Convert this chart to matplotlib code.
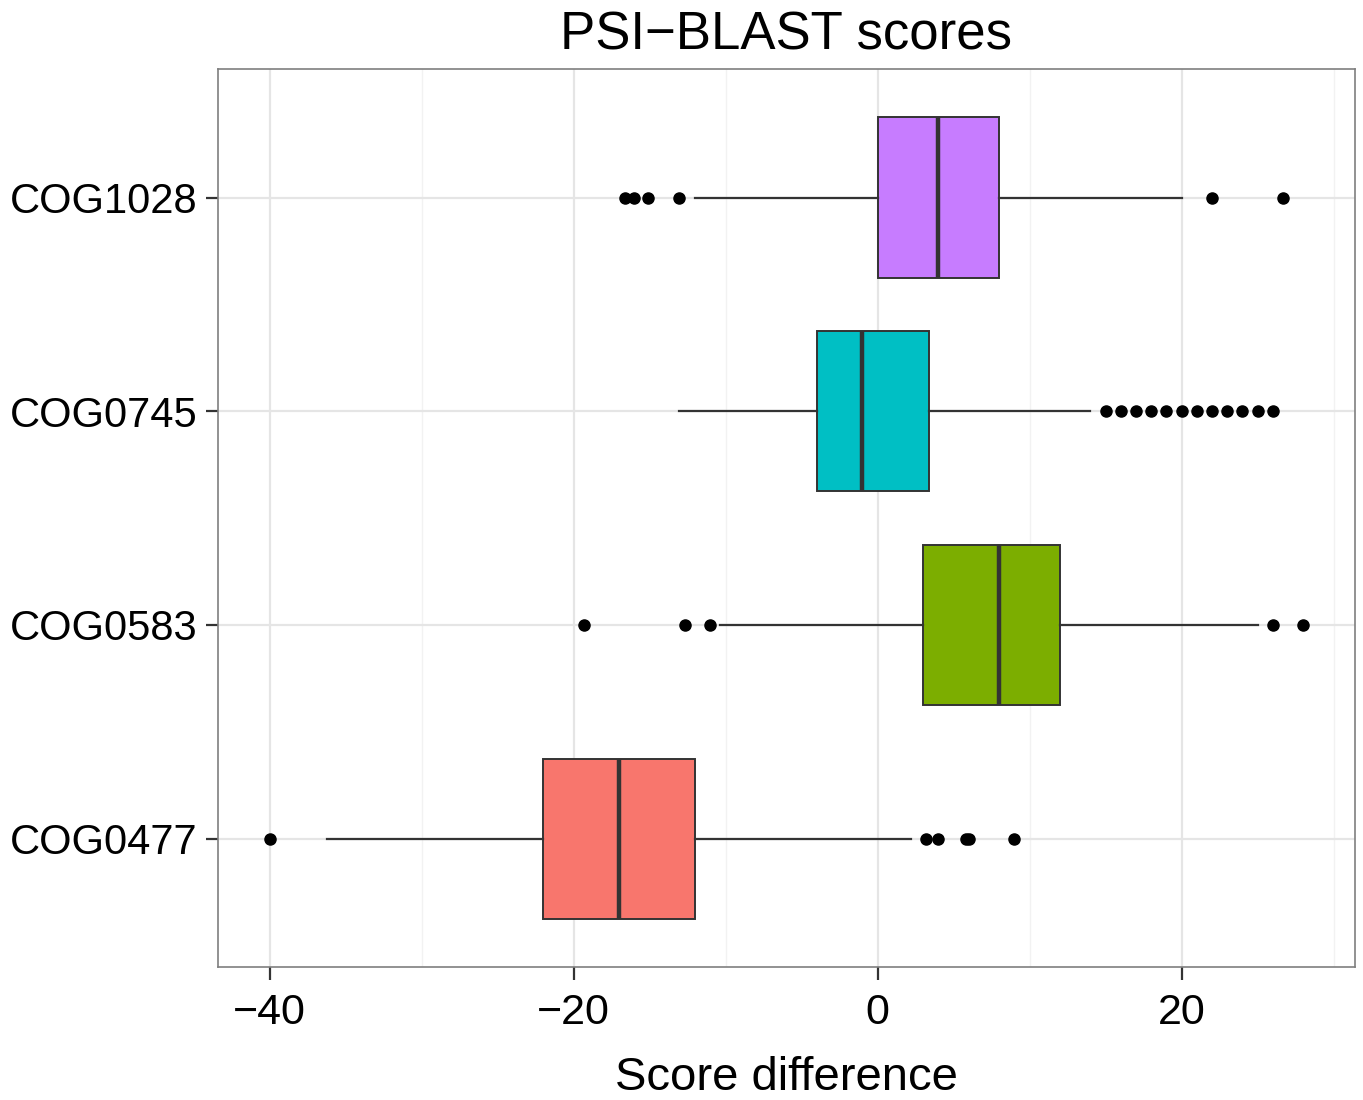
import matplotlib.pyplot as plt
import numpy as np

plt.rcParams["font.family"] = ["Liberation Sans", "DejaVu Sans"]

# Box statistics (bottom to top)
cogs = ["COG0477", "COG0583", "COG0745", "COG1028"]
colors = ["#F8766D", "#7CAE00", "#00BFC4", "#C77CFF"]
q1 = [-22, 3, -4, 0]
med = [-17, 8, -1, 4]
q3 = [-12, 12, 3.4, 8]
whislo = [-36.2, -10.4, -13.1, -12]
whishi = [2.2, 25, 14, 20]
fliers = [
    [-40, 3.2, 4, 5.8, 6, 9],
    [-19.3, -12.7, -11.05, 26, 28],
    [15, 16, 17, 18, 19, 20, 21, 22, 23, 24, 25, 26],
    [-16.6, -16.0, -15.1, -13.1, 22, 26.7],
]

stats = []
for i in range(len(cogs)):
    stats.append({"label": cogs[i], "q1": q1[i], "med": med[i], "q3": q3[i],
                  "whislo": whislo[i], "whishi": whishi[i], "fliers": fliers[i]})

fig = plt.figure(figsize=(13.63, 11), dpi=100)
ax = fig.add_axes([0.16, 0.121, 0.834, 0.816])

# ggplot-like grid
for x in [-30, -10, 10, 30]:
    ax.axvline(x, color="#F2F2F2", lw=1, zorder=0)
for x in [-40, -20, 0, 20]:
    ax.axvline(x, color="#E5E5E5", lw=1.6, zorder=0)
for y in range(1, 5):
    ax.axhline(y, color="#E5E5E5", lw=1.6, zorder=0)

bp = ax.bxp(stats, positions=range(1, 5), vert=False, widths=0.75,
            patch_artist=True, showcaps=False,
            boxprops=dict(edgecolor="#333333", linewidth=1.4),
            whiskerprops=dict(color="#333333", linewidth=1.6),
            medianprops=dict(color="#333333", linewidth=3.2),
            flierprops=dict(marker="o", markerfacecolor="black",
                            markeredgecolor="black", markersize=8))
for patch, c in zip(bp["boxes"], colors):
    patch.set_facecolor(c)
    patch.set_zorder(2)

ax.set_xlim(-43.4, 31.4)
ax.set_ylim(0.4, 4.6)
ax.set_xticks([-40, -20, 0, 20])
ax.set_xticklabels(["\u221240", "\u221220", "0", "20"])
ax.set_yticks(range(1, 5))
ax.set_yticklabels(cogs)
ax.tick_params(axis="both", colors="#333333", labelcolor="black",
               length=9, width=1.6)
ax.tick_params(axis="y", pad=6, labelsize=30)
ax.tick_params(axis="x", pad=10, labelsize=31)
for s in ax.spines.values():
    s.set_color("#7F7F7F")
    s.set_linewidth(1.2)

ax.set_xlabel("Score difference", fontsize=34, labelpad=16)
ax.set_title("PSI\u2212BLAST scores", fontsize=38, pad=14)

fig.savefig("out.png", dpi=100)
